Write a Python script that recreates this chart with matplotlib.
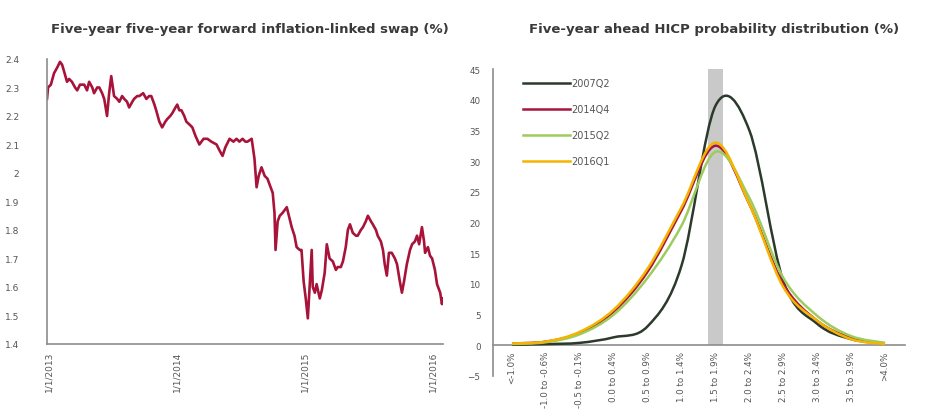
import numpy as np
import pandas as pd
import matplotlib
matplotlib.use("Agg")
import matplotlib.pyplot as plt
from matplotlib.path import Path
from matplotlib.patches import PathPatch
from matplotlib.lines import Line2D

# ---------------- data: left panel (5y5y inflation swap, %) ----------------
swap_start = "2012-12-27"
swap_day_offsets = [0, 3, 11, 20, 29, 37, 43, 49, 57, 63, 71, 80, 86, 94, 106, 114, 120, 129, 134, 143,
                    149, 157, 163, 171, 177, 183, 191, 200, 206, 214, 220, 228, 234, 243, 248, 257, 263, 274,
                    283, 291, 297, 306, 311, 320, 328, 337, 343, 351, 357, 366, 371, 377, 383, 391, 397, 406,
                    414, 423, 434, 446, 457, 468, 483, 491, 500, 508, 520, 531, 540, 548, 557, 565, 571, 583,
                    591, 597, 603, 611, 620, 628, 637, 643, 648, 651, 657, 663, 671, 683, 691, 697, 705, 711,
                    720, 725, 731, 737, 743, 748, 754, 757, 763, 768, 777, 783, 791, 797, 805, 814, 823, 828,
                    837, 843, 851, 857, 863, 871, 880, 885, 894, 900, 908, 914, 923, 928, 937, 942, 951, 957,
                    962, 968, 974, 982, 991, 997, 1005, 1011, 1017, 1025, 1034, 1040, 1048, 1054, 1060, 1068,
                    1074, 1077, 1085, 1091, 1097, 1105, 1111, 1120, 1125, 1128]
swap_values = [2.26, 2.30, 2.31, 2.35, 2.37, 2.39, 2.38, 2.355, 2.32, 2.33, 2.32, 2.30, 2.29, 2.31, 2.31,
               2.29, 2.32, 2.30, 2.28, 2.30, 2.30, 2.28, 2.26, 2.20, 2.28, 2.34, 2.27, 2.26, 2.25, 2.27,
               2.26, 2.25, 2.23, 2.25, 2.26, 2.27, 2.27, 2.28, 2.26, 2.27, 2.27, 2.24, 2.22, 2.18, 2.16,
               2.18, 2.19, 2.20, 2.21, 2.23, 2.24, 2.22, 2.22, 2.20, 2.18, 2.17, 2.16, 2.13, 2.10, 2.12,
               2.12, 2.11, 2.10, 2.08, 2.06, 2.09, 2.12, 2.11, 2.12, 2.11, 2.12, 2.11, 2.11, 2.12, 2.05,
               1.95, 1.99, 2.02, 1.99, 1.98, 1.95, 1.93, 1.86, 1.73, 1.83, 1.85, 1.86, 1.88, 1.84, 1.81,
               1.78, 1.74, 1.73, 1.73, 1.62, 1.56, 1.49, 1.60, 1.73, 1.60, 1.58, 1.61, 1.56, 1.59, 1.65,
               1.75, 1.70, 1.69, 1.66, 1.67, 1.67, 1.69, 1.74, 1.80, 1.82, 1.79, 1.78, 1.78, 1.80, 1.81,
               1.83, 1.85, 1.83, 1.82, 1.80, 1.78, 1.76, 1.73, 1.68, 1.64, 1.72, 1.72, 1.70, 1.68, 1.62,
               1.58, 1.62, 1.68, 1.73, 1.75, 1.76, 1.78, 1.75, 1.81, 1.76, 1.72, 1.74, 1.71, 1.70, 1.66,
               1.61, 1.58, 1.54, 1.56]
swap_tick_dates = ["2013-01-01", "2014-01-01", "2015-01-01", "2016-01-01"]
swap_tick_labels = ["1/1/2013", "1/1/2014", "1/1/2015", "1/1/2016"]
swap_yticks = [1.4, 1.5, 1.6, 1.7, 1.8, 1.9, 2.0, 2.1, 2.2, 2.3, 2.4]
swap_ylabels = ["1.4", "1.5", "1.6", "1.7", "1.8", "1.9", "2", "2.1", "2.2", "2.3", "2.4"]

# ---------------- data: right panel (HICP probability distribution, %) ----------------
hicp_bins = ["<-1.0%", "-1.0 to -0.6%", "-0.5 to -0.1%", "0.0 to 0.4%", "0.5 to 0.9%", "1.0 to 1.4%",
             "1.5 to 1.9%", "2.0 to 2.4%", "2.5 to 2.9%", "3.0 to 3.4%", "3.5 to 3.9%", ">4.0%"]
p_2007Q2 = [0.1, 0.2, 0.4, 1.3, 3.1, 13.0, 39.0, 35.0, 10.5, 3.5, 1.0, 0.3]
p_2014Q4 = [0.3, 0.6, 2.0, 5.5, 12.0, 22.0, 32.5, 23.0, 10.0, 4.0, 1.2, 0.3]
p_2015Q2 = [0.2, 0.5, 1.8, 5.0, 11.0, 19.5, 31.5, 24.0, 11.0, 4.8, 1.5, 0.4]
p_2016Q1 = [0.3, 0.6, 2.2, 5.8, 12.5, 22.5, 33.0, 23.0, 9.5, 4.0, 1.0, 0.2]
series_names = ["2007Q2", "2014Q4", "2015Q2", "2016Q1"]
band_bin = "1.5 to 1.9%"
band_height = 45
hicp_yticks = [-5, 0, 5, 10, 15, 20, 25, 30, 35, 40, 45]

# ---------------- figure ----------------
plt.rcParams['font.family'] = ['DejaVu Sans']
fig = plt.figure(figsize=(9.36, 4.14), dpi=100)
W, H = 936, 414

def axrect(l, r, t, b):
    return [l / W, 1 - b / H, (r - l) / W, (b - t) / H]

tick_col = '#555555'
spine_col = '#8c8c8c'
title_col = '#3a3a3a'

# ----- left panel -----
ax1 = fig.add_axes(axrect(47, 443, 60, 345))
dates = pd.Timestamp(swap_start) + pd.to_timedelta(swap_day_offsets, unit='D')
ax1.plot(dates, swap_values, color='#a8133a', lw=1.9)
ax1.set_ylim(1.4, 2.4)
ax1.set_xlim(dates[0], dates[-1])
for s in ['top', 'right']:
    ax1.spines[s].set_visible(False)
for s in ['left', 'bottom']:
    ax1.spines[s].set_color(spine_col)
    ax1.spines[s].set_linewidth(1.2)
ax1.set_yticks(swap_yticks)
ax1.set_yticklabels(swap_ylabels)
ax1.set_xticks(pd.to_datetime(swap_tick_dates))
ax1.set_xticklabels(swap_tick_labels, rotation=90)
ax1.tick_params(axis='both', length=0, labelsize=6.5, colors=tick_col)
ax1.tick_params(axis='y', pad=20)
ax1.tick_params(axis='x', pad=5)
fig.text(250 / W, 1 - 30 / H, "Five-year five-year forward inflation-linked swap (%)",
         ha='center', va='center', fontsize=9.5, fontweight='bold', color=title_col)

# ----- right panel -----
ax2 = fig.add_axes(axrect(493, 905, 70, 377))
xpos = np.arange(len(hicp_bins))
band_idx = hicp_bins.index(band_bin)
ax2.bar([xpos[band_idx]], [band_height], width=0.44, color='#c9c9c9', zorder=1)

def smooth_path(xs, ys):
    xs = np.asarray(xs, float); ys = np.asarray(ys, float)
    pts = np.column_stack([xs, ys])
    verts = [pts[0]]
    codes = [Path.MOVETO]
    n = len(pts)
    for i in range(n - 1):
        p0 = pts[i - 1] if i > 0 else pts[i]
        p1 = pts[i]
        p2 = pts[i + 1]
        p3 = pts[i + 2] if i + 2 < n else pts[i + 1]
        c1 = p1 + (p2 - p0) / 6.0
        c2 = p2 - (p3 - p1) / 6.0
        verts += [c1, c2, p2]
        codes += [Path.CURVE4] * 3
    return Path(verts, codes)

colors = ['#2c3a2c', '#a8143c', '#9ccc5e', '#f4b400']
series = [p_2007Q2, p_2014Q4, p_2015Q2, p_2016Q1]
handles = []
for name, vals, col in zip(series_names, series, colors):
    patch = PathPatch(smooth_path(xpos, vals), facecolor='none', edgecolor=col, lw=1.8, zorder=3)
    ax2.add_patch(patch)
    handles.append(Line2D([], [], color=col, lw=1.8, label=name))

ax2.set_xlim(-0.56, 11.59)
ax2.set_ylim(-5, 45)
for s in ['top', 'right']:
    ax2.spines[s].set_visible(False)
ax2.spines['bottom'].set_position(('data', 0))
for s in ['left', 'bottom']:
    ax2.spines[s].set_color(spine_col)
    ax2.spines[s].set_linewidth(1.2)
ax2.set_yticks(hicp_yticks)
ax2.set_xticks(xpos)
ax2.set_xticklabels(hicp_bins, rotation=90, va='top', ha='center')
ax2.tick_params(axis='both', length=0, labelsize=6.3, colors=tick_col)
ax2.tick_params(axis='y', pad=9)
ax2.tick_params(axis='x', pad=4)
fig.text(714 / W, 1 - 30 / H, "Five-year ahead HICP probability distribution (%)",
         ha='center', va='center', fontsize=9.5, fontweight='bold', color=title_col)

leg = fig.legend(handles=handles, loc='upper left', bbox_to_anchor=(523 / W, 1 - 79 / H),
                 frameon=False, fontsize=7, handlelength=4.8, handletextpad=0.15,
                 labelspacing=1.65, borderpad=0, borderaxespad=0)
for t in leg.get_texts():
    t.set_color(tick_col)

fig.savefig("out.png", dpi=100, facecolor='white')
